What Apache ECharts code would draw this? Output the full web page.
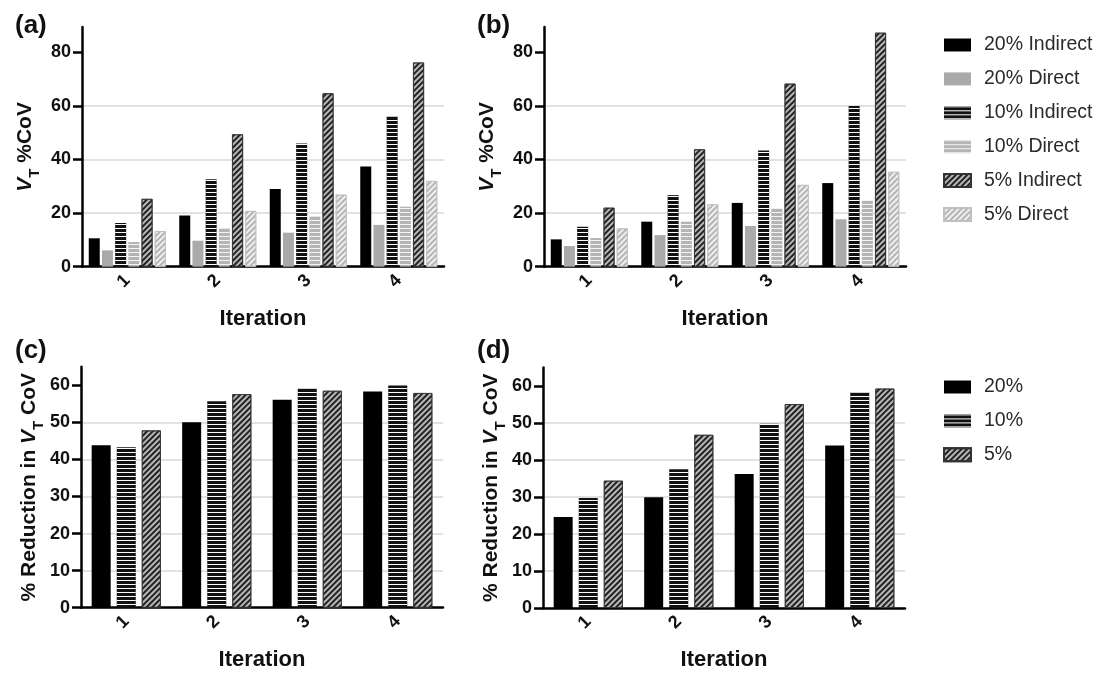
<!DOCTYPE html>
<html>
<head>
<meta charset="utf-8">
<script src="https://cdn.jsdelivr.net/npm/echarts@6/dist/echarts.min.js"></script>
<style>
html, body { margin: 0; padding: 0; background: #fff; }
#main { width: 1105px; height: 675px; }
</style>
</head>
<body>
<div id="main"></div>
<script>
var iterations = ['1', '2', '3', '4'];

// (a) and (b): VT %CoV
var a20Ind = [10.6, 19.1, 29.0, 37.4];
var a20Dir = [6.1, 9.7, 12.7, 15.6];
var a10Ind = [16.3, 32.6, 46.0, 56.0];
var a10Dir = [9.2, 14.3, 18.8, 22.4];
var a5Ind = [25.3, 49.4, 64.7, 76.2];
var a5Dir = [13.3, 20.8, 26.9, 32.0];

var b20Ind = [10.2, 16.8, 23.8, 31.2];
var b20Dir = [7.7, 11.8, 15.2, 17.7];
var b10Ind = [14.9, 26.7, 43.4, 60.0];
var b10Dir = [10.7, 16.8, 21.6, 24.9];
var b5Ind = [22.0, 43.8, 68.3, 87.3];
var b5Dir = [14.3, 23.3, 30.5, 35.4];

// (c) and (d): % reduction in VT CoV
var c20 = [43.8, 50.0, 56.1, 58.3];
var c10 = [43.3, 55.7, 59.2, 59.9];
var c5 = [47.8, 57.6, 58.5, 57.9];
var d20 = [24.6, 29.9, 36.2, 43.9];
var d10 = [29.7, 37.5, 49.8, 58.3];
var d5 = [34.4, 46.8, 55.1, 59.3];

// tick values (axis lines run a little past the last tick)
var topTicks = [0, 20, 40, 60, 80];
var bottomTicks = [0, 10, 20, 30, 40, 50, 60];

var topNames = ['20% Indirect', '20% Direct', '10% Indirect', '10% Direct', '5% Indirect', '5% Direct'];
var bottomNames = ['20%', '10%', '5%'];

var FONT = "'Liberation Sans', Arial, Helvetica, sans-serif";

function hStripes(base, line) {
    return {
        color: base,
        decal: { symbol: 'rect', color: line, dashArrayX: [1, 0], dashArrayY: [1, 2.6], rotation: 0 }
    };
}
function diag(base, line, border) {
    return {
        color: base,
        borderColor: border,
        borderWidth: 0.8,
        decal: { symbol: 'rect', color: line, dashArrayX: [1, 0], dashArrayY: [1.8, 1.8], rotation: -Math.PI / 4 }
    };
}
var looks = {
    '20% Indirect': { color: '#000' },
    '20% Direct': { color: '#aaaaad' },
    '10% Indirect': hStripes('#111', '#ffffff'),
    '10% Direct': hStripes('#b4b4b6', '#f4f4f4'),
    '5% Indirect': diag('#b8b8b8', '#222', '#333'),
    '5% Direct': diag('#f0f0f0', '#b4b4b6', '#c0c0c0'),
    '20%': { color: '#000' },
    '10%': hStripes('#111', '#ffffff'),
    '5%': diag('#b8b8b8', '#222', '#333')
};

var grids = [
    { left: 82, top: 27.1, width: 362, height: 239.6 },
    { left: 544, top: 27.1, width: 362, height: 239.6 },
    { left: 81, top: 366.7, width: 362, height: 241 },
    { left: 543, top: 367.5, width: 362, height: 240.5 }
];

function xAxis(i) {
    return {
        type: 'category', gridIndex: i, data: iterations,
        name: 'Iteration', nameLocation: 'middle', nameGap: 41,
        nameTextStyle: { fontFamily: FONT, fontSize: 22, fontWeight: 'bold', color: '#111' },
        axisLine: { lineStyle: { color: '#000', width: 2.5 } },
        axisTick: { alignWithLabel: true, length: 9, lineStyle: { color: '#000', width: 2.5 } },
        axisLabel: { rotate: 45, margin: 11, fontFamily: FONT, fontSize: 18, fontWeight: 'bold', color: '#111' }
    };
}
function yAxis(i, max, ticks, name, nameGap) {
    return {
        type: 'value', gridIndex: i, min: 0, max: max,
        name: name, nameLocation: 'middle', nameGap: nameGap, nameRotate: 90,
        nameTextStyle: {
            fontFamily: FONT, fontSize: 21, fontWeight: 'bold', color: '#111',
            rich: {
                i: { fontFamily: FONT, fontSize: 21, fontWeight: 'bold', fontStyle: 'italic', color: '#111', lineHeight: 26 },
                s: { fontFamily: FONT, fontSize: 15, fontWeight: 'bold', color: '#111', verticalAlign: 'bottom', lineHeight: 14, padding: [0, 0, -4, 0] },
                n: { fontFamily: FONT, fontSize: 21, fontWeight: 'bold', color: '#111', lineHeight: 26 }
            }
        },
        axisLine: { show: true, lineStyle: { color: '#000', width: 2.5 } },
        axisTick: { show: true, customValues: ticks, length: 9, lineStyle: { color: '#000', width: 2.5 } },
        axisLabel: { customValues: ticks, margin: 11, fontFamily: FONT, fontSize: 18, fontWeight: 'bold', color: '#111' },
        splitLine: { show: true, showMaxLine: false, lineStyle: { color: '#d8d8d8', width: 1.5 } }
    };
}

var series = [];
function addBars(names, arrays, gi, barWidth, barGap) {
    for (var k = 0; k < names.length; k++) {
        series.push({
            name: names[k], type: 'bar', xAxisIndex: gi, yAxisIndex: gi,
            data: arrays[k], barWidth: barWidth, barGap: barGap,
            itemStyle: looks[names[k]]
        });
    }
}
addBars(topNames, [a20Ind, a20Dir, a10Ind, a10Dir, a5Ind, a5Dir], 0, 11, '20%');
addBars(topNames, [b20Ind, b20Dir, b10Ind, b10Dir, b5Ind, b5Dir], 1, 11, '20%');
addBars(bottomNames, [c20, c10, c5], 2, 19, '32%');
addBars(bottomNames, [d20, d10, d5], 3, 19, '32%');

var vtName = '{i|V}{s|T}{n| %CoV}';
var redName = '{n|% Reduction in }{i|V}{s|T}{n| CoV}';

var panelText = { fontFamily: FONT, fontSize: 26, fontWeight: 'bold', color: '#111' };
var legendText = { fontFamily: FONT, fontSize: 19.5, color: '#2a2a2a', padding: [0, 0, 0, 8] };

var myChart = echarts.init(document.getElementById('main'), null, { renderer: 'canvas' });
var option = {
    animation: false,
    backgroundColor: '#fff',
    title: [
        { text: '(a)', left: 10, top: 8, textStyle: panelText },
        { text: '(b)', left: 472, top: 8, textStyle: panelText },
        { text: '(c)', left: 10, top: 333, textStyle: panelText },
        { text: '(d)', left: 472, top: 333, textStyle: panelText }
    ],
    legend: [
        {
            data: topNames, orient: 'vertical', left: 938, top: 30,
            icon: 'rect', itemWidth: 27, itemHeight: 13, itemGap: 13.9,
            textStyle: legendText
        },
        {
            data: bottomNames, orient: 'vertical', left: 938, top: 372,
            icon: 'rect', itemWidth: 27, itemHeight: 13, itemGap: 13.9,
            textStyle: legendText
        }
    ],
    grid: grids,
    xAxis: [xAxis(0), xAxis(1), xAxis(2), xAxis(3)],
    yAxis: [
        yAxis(0, 89.4, topTicks, vtName, 44),
        yAxis(1, 89.4, topTicks, vtName, 44),
        yAxis(2, 65, bottomTicks, redName, 29),
        yAxis(3, 65, bottomTicks, redName, 29)
    ],
    series: series
};

myChart.setOption(option);
</script>
</body>
</html>
